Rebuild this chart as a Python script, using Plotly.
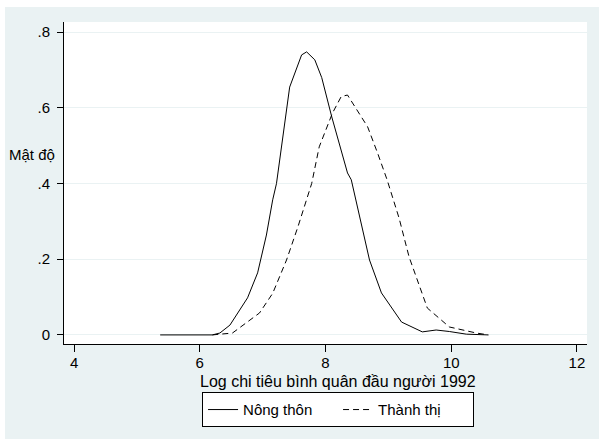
import plotly.graph_objects as go

# Rural (Nông thôn) density estimate, log per-capita expenditure 1992
rural_x = [5.37, 6.2, 6.32, 6.48, 6.76, 6.92, 7.06, 7.16, 7.22, 7.43, 7.62, 7.70, 7.83, 7.94, 8.10,
           8.35, 8.41, 8.70, 8.89, 9.21, 9.54, 9.76, 9.97, 10.24, 10.59]
rural_y = [0.0, 0.0, 0.005, 0.026, 0.098, 0.164, 0.264, 0.357, 0.40, 0.655, 0.74, 0.748, 0.727, 0.68, 0.576,
           0.428, 0.41, 0.198, 0.111, 0.034, 0.008, 0.013, 0.009, 0.002, 0.0]

# Urban (Thành thị)
urban_x = [6.2, 6.52, 6.95, 7.16, 7.38, 7.56, 7.78, 7.90, 8.11, 8.25, 8.35, 8.67, 8.83, 8.98, 9.17,
           9.33, 9.62, 9.97, 10.4, 10.59]
urban_y = [0.0, 0.005, 0.058, 0.11, 0.198, 0.285, 0.40, 0.497, 0.586, 0.63, 0.634, 0.55, 0.48, 0.41, 0.309,
           0.206, 0.071, 0.021, 0.005, 0.0]

x_ticks = [4, 6, 8, 10, 12]
y_ticks = [0, 0.2, 0.4, 0.6, 0.8]
y_tick_text = ["0", ".2", ".4", ".6", ".8"]

FONT = "Liberation Sans, Arial, sans-serif"
BG = "#EAF2F3"

fig = go.Figure()
fig.add_trace(go.Scatter(x=rural_x, y=rural_y, mode="lines", name="Nông thôn",
                         line=dict(color="black", width=1)))
fig.add_trace(go.Scatter(x=urban_x, y=urban_y, mode="lines", name="Thành thị",
                         line=dict(color="black", width=1, dash="6px,4px")))

fig.update_layout(
    width=599, height=439,
    margin=dict(l=64, r=12, t=22, b=95),
    paper_bgcolor=BG,
    plot_bgcolor="white",
    font=dict(family=FONT, size=15, color="black"),
    showlegend=True,
    legend=dict(orientation="h", x=0.524, xanchor="center", y=-0.15, yanchor="top",
                bordercolor="black", borderwidth=1, bgcolor="white", entrywidth=90,
                font=dict(size=15), traceorder="normal"),
    shapes=[
        # white outer border strips (top and left) around the light panel
        dict(type="rect", xref="paper", yref="paper", x0=-0.2, x1=1.1, y0=1.0466, y1=1.2,
             fillcolor="white", line=dict(width=0), layer="above"),
        dict(type="rect", xref="paper", yref="paper", x0=-0.2, x1=-0.1128, y0=-0.4, y1=1.2,
             fillcolor="white", line=dict(width=0), layer="above"),
    ],
    annotations=[
        dict(text="Mật độ", xref="paper", yref="paper", x=-0.0134, y=0.590,
             xanchor="right", yanchor="middle", showarrow=False, font=dict(size=15)),
        dict(text="Log chi tiêu bình quân đầu người 1992", xref="paper", yref="paper",
             x=0.524, y=-0.0885, xanchor="center", yanchor="top", showarrow=False,
             font=dict(size=16), borderpad=0),
    ],
)
fig.update_xaxes(range=[3.84, 12.16], tickvals=x_ticks, ticks="outside", ticklen=7, tickcolor="black",
                 showline=True, linecolor="black", linewidth=1, showgrid=False, zeroline=False,
                 ticklabelstandoff=-2, tickfont=dict(size=15))
fig.update_yaxes(range=[-0.024, 0.827], tickvals=y_ticks, ticktext=y_tick_text, ticks="outside",
                 ticklen=6, tickcolor="black", showline=True, linecolor="black", linewidth=1,
                 ticklabelstandoff=4,
                 showgrid=True, gridcolor=BG, gridwidth=1, zeroline=False, tickfont=dict(size=15))

fig.write_html("out.html")
